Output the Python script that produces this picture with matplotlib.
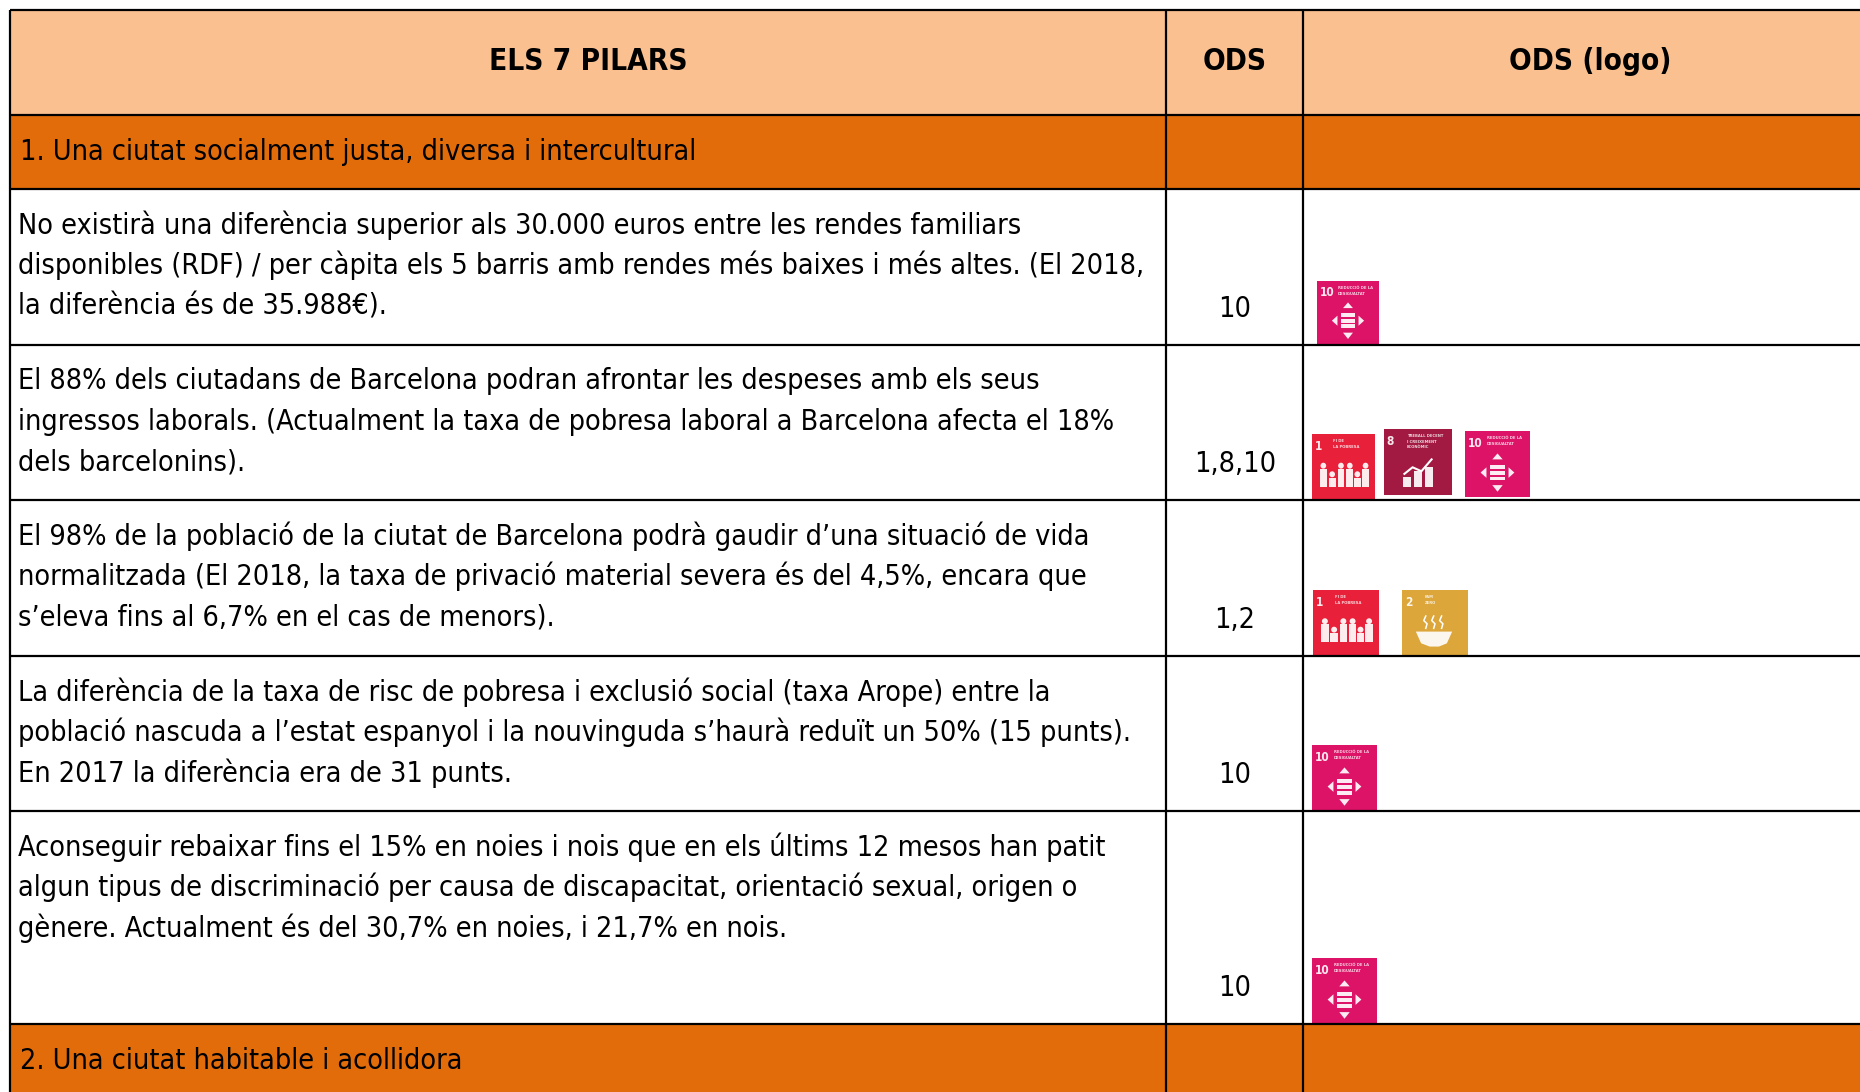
import matplotlib
matplotlib.use("Agg")
import matplotlib.pyplot as plt
from matplotlib.font_manager import FontProperties
from matplotlib.patches import Rectangle, Polygon, Ellipse

# --- table content ---
headers = ["ELS 7 PILARS", "ODS", "ODS (logo)"]
row_kinds = ["section", "body", "body", "body", "body", "body", "section"]
row_texts = [
    ["1. Una ciutat socialment justa, diversa i intercultural"],
    ["No existirà una diferència superior als 30.000 euros entre les rendes familiars",
     "disponibles (RDF) / per càpita els 5 barris amb rendes més baixes i més altes. (El 2018,",
     "la diferència és de 35.988€)."],
    ["El 88% dels ciutadans de Barcelona podran afrontar les despeses amb els seus",
     "ingressos laborals. (Actualment la taxa de pobresa laboral a Barcelona afecta el 18%",
     "dels barcelonins)."],
    ["El 98% de la població de la ciutat de Barcelona podrà gaudir d’una situació de vida",
     "normalitzada (El 2018, la taxa de privació material severa és del 4,5%, encara que",
     "s’eleva fins al 6,7% en el cas de menors)."],
    ["La diferència de la taxa de risc de pobresa i exclusió social (taxa Arope) entre la",
     "població nascuda a l’estat espanyol i la nouvinguda s’haurà reduït un 50% (15 punts).",
     "En 2017 la diferència era de 31 punts."],
    ["Aconseguir rebaixar fins el 15% en noies i nois que en els últims 12 mesos han patit",
     "algun tipus de discriminació per causa de discapacitat, orientació sexual, origen o",
     "gènere. Actualment és del 30,7% en noies, i 21,7% en nois."],
    ["2. Una ciutat habitable i acollidora"],
]
row_ods = ["", "10", "1,8,10", "1,2", "10", "10", ""]

logo_colors = {1: "#E8203A", 2: "#DDA63A", 8: "#A21942", 10: "#DD1367"}
logo_titles = {1: "FI DE\nLA POBRESA", 2: "FAM\nZERO",
               8: "TREBALL DECENT\nI CREIXEMENT\nECONÒMIC", 10: "REDUCCIÓ DE LA\nDESIGUALTAT"}

# --- layout, in reference pixels ---
W, H = 1860, 1092
col_x = [10, 1166, 1303]
row_y = [10, 115, 189, 345, 500, 656, 811, 1024, 1092]
logo_boxes = [
    (10, 1317, 281, 62, 63),
    (1, 1312, 434, 63, 66),
    (8, 1384, 429, 68, 66),
    (10, 1465, 431, 65, 66),
    (1, 1313, 590, 66, 65),
    (2, 1402, 590, 66, 65),
    (10, 1312, 745, 65, 66),
    (10, 1312, 958, 65, 66),
]
ods_y = [None, 309, 464, 620, 775, 988, None]
section_y = [152, None, None, None, None, None, 1061]
HEADER = "#FAC090"
SECTION = "#E36C0A"
FS = 20.65
FS_BOLD = 21.3

# same look as Tahoma needs the condensed cut
regular = FontProperties(family="DejaVu Sans", stretch="condensed")
bold = FontProperties(family="DejaVu Sans", stretch="condensed", weight="bold")

fig = plt.figure(figsize=(W / 100, H / 100), dpi=100)
ax = fig.add_axes([0, 0, 1, 1])
ax.set_xlim(0, W)
ax.set_ylim(H, 0)
ax.axis("off")


def draw_logo(num, x, y, w, h):
    ax.add_patch(Rectangle((x, y), w, h, fc=logo_colors[num], ec="none", zorder=3))
    px = lambda u: x + u * w
    py = lambda v: y + v * h
    ax.text(px(0.04), py(0.19), str(num), color="white", fontproperties=bold, fontsize=8.5,
            ha="left", va="center", zorder=4, alpha=0.9)
    ax.text(px(0.34), py(0.08), logo_titles[num], color="white", fontsize=2.7, fontweight="bold",
            ha="left", va="top", zorder=4, linespacing=1.5, alpha=0.8)
    kw = dict(fc="white", ec="none", zorder=4, alpha=0.92)
    if num == 10:
        for v in (0.54, 0.63, 0.72):
            ax.add_patch(Rectangle((px(0.39), py(v - 0.03)), 0.22 * w, 0.06 * h, **kw))
        ax.add_patch(Polygon([(px(0.5), py(0.34)), (px(0.42), py(0.43)), (px(0.58), py(0.43))], **kw))
        ax.add_patch(Polygon([(px(0.5), py(0.92)), (px(0.42), py(0.82)), (px(0.58), py(0.82))], **kw))
        ax.add_patch(Polygon([(px(0.24), py(0.63)), (px(0.33), py(0.55)), (px(0.33), py(0.71))], **kw))
        ax.add_patch(Polygon([(px(0.76), py(0.63)), (px(0.67), py(0.55)), (px(0.67), py(0.71))], **kw))
    elif num == 1:
        for u, top in zip((0.18, 0.32, 0.46, 0.6, 0.72, 0.85), (0.45, 0.58, 0.45, 0.45, 0.58, 0.45)):
            ax.add_patch(Ellipse((px(u), py(top + 0.03)), 0.09 * w, 0.09 * h, **kw))
            ax.add_patch(Rectangle((px(u - 0.055), py(top + 0.08)), 0.11 * w, (0.8 - top - 0.08) * h, **kw))
    elif num == 8:
        for u, top in zip((0.34, 0.5, 0.66), (0.72, 0.64, 0.58)):
            ax.add_patch(Rectangle((px(u - 0.06), py(top)), 0.12 * w, (0.88 - top) * h, **kw))
        ax.plot([px(0.3), px(0.42), px(0.55), px(0.7)], [py(0.68), py(0.58), py(0.64), py(0.46)],
                color="white", lw=1.5, zorder=4)
    elif num == 2:
        ax.add_patch(Polygon([(px(0.21), py(0.64)), (px(0.76), py(0.64)), (px(0.68), py(0.82)),
                              (px(0.56), py(0.87)), (px(0.42), py(0.87)), (px(0.29), py(0.82))], **kw))
        for u in (0.36, 0.48, 0.6):
            ax.plot([px(u), px(u - 0.03), px(u + 0.02), px(u)], [py(0.4), py(0.47), py(0.52), py(0.59)],
                    color="white", lw=1.1, zorder=4)


# backgrounds
ax.add_patch(Rectangle((col_x[0], row_y[0]), W, row_y[1] - row_y[0], fc=HEADER, ec="none", zorder=1))
for i, kind in enumerate(row_kinds):
    if kind == "section":
        ax.add_patch(Rectangle((col_x[0], row_y[i + 1]), W, row_y[i + 2] - row_y[i + 1],
                               fc=SECTION, ec="none", zorder=1))

# grid
for y in row_y[:-1]:
    ax.plot([col_x[0], W], [y, y], color="black", lw=1.6, zorder=5, solid_capstyle="butt")
for x in col_x:
    ax.plot([x, x], [row_y[0], H], color="black", lw=1.6, zorder=5, solid_capstyle="butt")

# header text
header_x = [588, 1235, 1590]
for x, s in zip(header_x, headers):
    ax.text(x, 62, s, fontproperties=bold, fontsize=FS_BOLD, ha="center", va="center", zorder=6)

# rows
for i, (kind, lines, ods) in enumerate(zip(row_kinds, row_texts, row_ods)):
    top = row_y[i + 1]
    if kind == "section":
        ax.text(20, section_y[i], lines[0], fontproperties=regular, fontsize=FS,
                ha="left", va="center", zorder=6)
        continue
    for j, line in enumerate(lines):
        ax.text(18, top + 36 + j * 40.7, line, fontproperties=regular, fontsize=FS,
                ha="left", va="center", zorder=6)
    ax.text(1235, ods_y[i], ods, fontproperties=regular, fontsize=FS, ha="center", va="center", zorder=6)

for box in logo_boxes:
    draw_logo(*box)

fig.savefig("out.png", dpi=100, facecolor="white")
